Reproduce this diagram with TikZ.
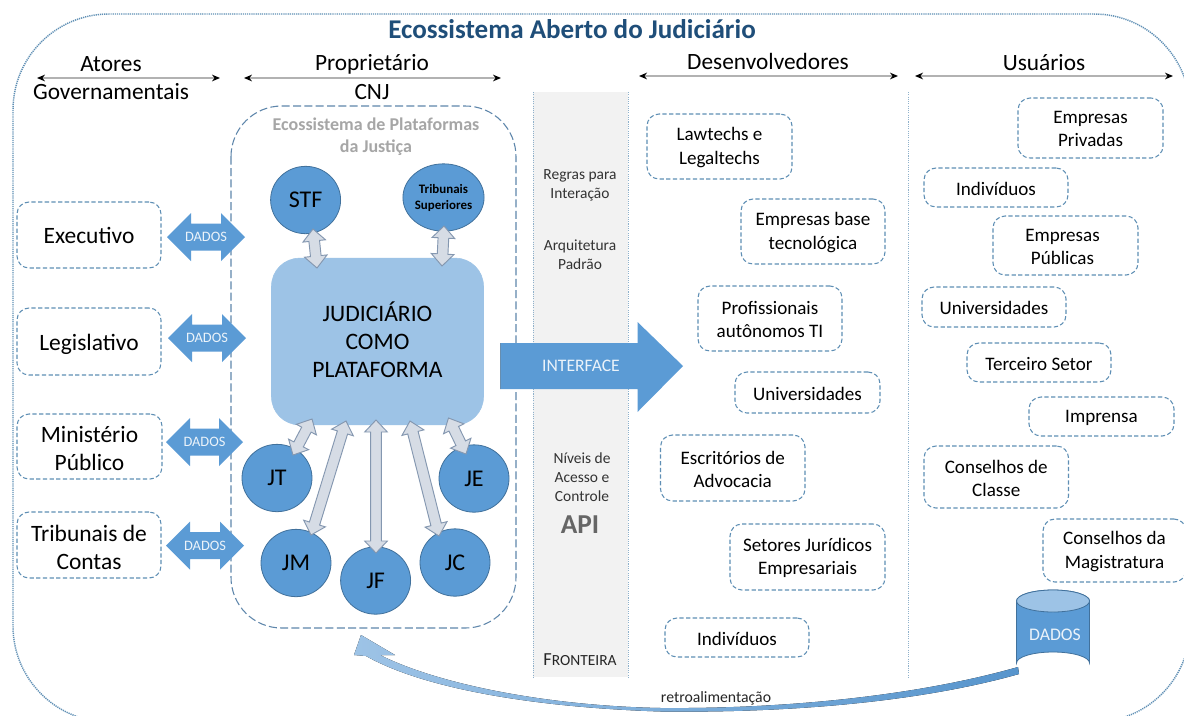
\documentclass[tikz,border=0pt]{standalone}
\usepackage{fontspec}
\setmainfont{Carlito}
\usetikzlibrary{calc,shapes.geometric,arrows.meta}
\definecolor{midblue}{HTML}{5B9BD5}
\definecolor{lightblue}{HTML}{9DC3E6}
\definecolor{edgeblue}{HTML}{41719C}
\definecolor{dashblue}{HTML}{5F8FB5}
\definecolor{fatfill}{HTML}{D6DCE5}
\definecolor{fatedge}{HTML}{8497B0}
\definecolor{titleblue}{HTML}{1F4E79}
\definecolor{colgray}{HTML}{F2F2F2}
\tikzset{
  x=0.75pt,y=-0.75pt,
  dashbox/.style={draw=dashblue,line width=0.8pt,dash pattern=on 3.2pt off 1.8pt,rounded corners=9pt,inner sep=0pt},
  boxtext/.style={inner sep=0pt,align=center,yshift=-0.8pt,font=\fontsize{14.3}{17.4}\selectfont},
  leftbox/.style={yshift=-0.4pt,font=\fontsize{17.6}{21}\selectfont},
  leftboxlow/.style={yshift=-1.2pt,font=\fontsize{17.6}{21}\selectfont},
  leftboxhigh/.style={yshift=0.8pt,font=\fontsize{17.6}{21}\selectfont},
  ball/.style={ellipse,draw=edgeblue,fill=midblue,line width=0.6pt,inner sep=0pt,minimum width=52.5pt,minimum height=50.5pt,align=center,font=\fontsize{18}{19}\selectfont},
  fat/.style={draw=fatedge,fill=fatfill,line width=0.7pt,line join=miter},
  headarrow/.style={draw=black!30,line width=1pt,{Stealth[black,length=6pt,width=5pt]}-{Stealth[black,length=6pt,width=5pt]}},
  headtext/.style={inner sep=0pt,font=\fontsize{17.5}{19}\selectfont},
  coltext/.style={inner sep=0pt,align=center,text=black!80,font=\fontsize{11.6}{14.2}\selectfont},
  datatext/.style={inner sep=0pt,text=white!88!midblue,font=\fontsize{10.8}{12}\selectfont},
  dadosarrow/.style={fill=midblue,draw=none},
  vdots/.style={draw=dashblue!70,line width=0.6pt,dash pattern=on 0.8pt off 0.9pt},
}
% rounded dashed box: text style, name, x1, y1, x2, y2, text
\newcommand{\rbox}[7][]{\node[dashbox,minimum width={(#5-#3)*0.75pt},minimum height={(#6-#4)*0.75pt}] (#2) at ({(#3+#5)/2},{(#4+#6)/2}) {};
  \node[boxtext,#1] (#2-t) at (#2) {#7};}
% double block arrow between two named coordinates
\newcommand{\fatarrow}[2]{%
  \draw[fat]
   (#1)
   -- ($(#1)!9pt!(#2)!8.5pt!90:(#2)$)
   -- ($(#1)!9pt!(#2)!4pt!90:(#2)$)
   -- ($(#2)!9pt!(#1)!4pt!-90:(#1)$)
   -- ($(#2)!9pt!(#1)!8.5pt!-90:(#1)$)
   -- (#2)
   -- ($(#2)!9pt!(#1)!8.5pt!90:(#1)$)
   -- ($(#2)!9pt!(#1)!4pt!90:(#1)$)
   -- ($(#1)!9pt!(#2)!4pt!-90:(#2)$)
   -- ($(#1)!9pt!(#2)!8.5pt!-90:(#2)$)
   -- cycle;}
% horizontal DADOS arrow: name, x1, x2, cy
\newcommand{\dadosarrow}[4]{%
  \fill[dadosarrow] (#2,#4) -- (#2+24,#4-24) -- (#2+24,#4-13.5) -- (#3-24,#4-13.5) -- (#3-24,#4-24) -- (#3,#4)
     -- (#3-24,#4+24) -- (#3-24,#4+13.5) -- (#2+24,#4+13.5) -- (#2+24,#4+24) -- cycle;
  \node[datatext] (#1) at ({(#2+#3)/2},#4) {DADOS};}
\begin{document}
\begin{tikzpicture}
\useasboundingbox (0,0) rectangle (1184,715);
\fill[white] (0,0) rectangle (1184,715);
\clip (0,0) rectangle (1184,715);

% outer frame
\draw[draw=dashblue,line width=1.1pt,dash pattern=on 0.9pt off 0.7pt,rounded corners=72pt] (13,14) rectangle (1190,722);
\node[inner sep=0pt,text=titleblue,font=\bfseries\fontsize{20.3}{22}\selectfont] (title) at (572,29) {Ecossistema Aberto do Judiciário};

% headers
\node[headtext] (h1) at (111,64) {Atores};
\node[headtext] (h1b) at (111,92) {Governamentais};
\node[headtext] (h2) at (372,64) {Proprietário};
\node[headtext] (h2b) at (372,92) {CNJ};
\node[headtext] (h3) at (768,61) {Desenvolvedores};
\node[headtext] (h4) at (1044,63) {Usuários};
\coordinate (a1) at (37,78); \coordinate (a2) at (220,78);
\coordinate (b1) at (244,78); \coordinate (b2) at (501,78);
\coordinate (c1) at (639,76); \coordinate (c2) at (898,76);
\coordinate (d1) at (915,76); \coordinate (d2) at (1173,76);
\draw[headarrow] (a1) -- (a2);
\draw[headarrow] (b1) -- (b2);
\draw[headarrow] (c1) -- (c2);
\draw[headarrow] (d1) -- (d2);

% inner platform frame
\draw[draw=edgeblue!85,line width=0.8pt,dash pattern=on 6pt off 2.5pt,rounded corners=38pt] (231,106) rectangle (516,628);
\node[inner sep=0pt,align=center,text=black!35,font=\bfseries\fontsize{13.5}{16.5}\selectfont] (eco) at (376,136.5) {Ecossistema de Plataformas\\da Justiça};

% feedback arrow
\fill[left color=lightblue,middle color=lightblue!30,right color=midblue!85!edgeblue]
  (361,635) -- (395,655) -- (380,655)
  .. controls (440,685) and (550,706) .. (661,708)
  .. controls (790,709) and (920,695) .. (1018,667)
  -- (1019,674)
  .. controls (920,702) and (790,713) .. (661,711.5)
  .. controls (550,708) and (430,692) .. (366,656)
  -- (354,655) -- cycle;
\node[inner sep=0pt,text=black!85,font=\fontsize{11.8}{13}\selectfont] (retro) at (716,698) {retroalimentação};

% API column
\fill[colgray] (533,92) rectangle (628,677);
\draw[vdots] (533,92) -- (533,677);
\draw[vdots] (628,92) -- (628,677);
\draw[vdots] (908,92) -- (908,677);
\node[coltext] (c-regras) at (580,185.5) {Regras para\\Interação};
\node[coltext] (c-arq) at (580,254.5) {Arquitetura\\Padrão};
\node[coltext] (c-niveis) at (582,477) {Níveis de\\Acesso e\\Controle};
\node[inner sep=0pt,text=black!60,font=\bfseries\fontsize{20.5}{22}\selectfont] (c-api) at (580,525) {API};
\node[inner sep=0pt,text=black!85,font=\fontsize{13.8}{15}\selectfont] (c-front) at (580,660) {F{\fontsize{11.6}{15}\selectfont RONTEIRA}};

% left boxes
\rbox[leftboxhigh]{exec}{17}{202}{161}{268}{Executivo}
\rbox[leftboxlow]{legis}{17}{308}{161}{375}{Legislativo}
\rbox[leftbox]{mp}{17}{414}{162}{479}{Ministério\\Público}
\rbox[leftboxlow]{tc}{17}{512}{161}{578}{Tribunais de\\Contas}

% DADOS arrows
\dadosarrow{d-exec}{167}{245}{237}
\dadosarrow{d-legis}{168}{246}{338}
\dadosarrow{d-mp}{166}{243}{442}
\dadosarrow{d-tc}{166}{244}{545.5}

% platform
\node[fill=lightblue,draw=lightblue,rounded corners=21pt,minimum width=159pt,minimum height=125pt,inner sep=0pt,align=center,font=\fontsize{17.7}{21}\selectfont] (plat) at (377.5,341.5) {\raisebox{3pt}{JUDICIÁRIO}\\\raisebox{3pt}{COMO}\\\raisebox{3pt}{PLATAFORMA}};

% circles
\node[ball] (stf) at (305.6,200) {STF};
\node[ball,font=\bfseries\fontsize{9.7}{12}\selectfont] (sup) at (443.5,197.5) {Tribunais\\Superiores};
\node[ball] (jt) at (277,478) {JT};
\node[ball] (je) at (474,478.5) {JE};
\node[ball] (jm) at (296,563) {JM};
\node[ball] (jf) at (375.6,580.5) {JF};
\node[ball] (jc) at (455,562.5) {JC};

% connectors circle <-> platform
\coordinate (stf1) at (313,229); \coordinate (stf2) at (317,268);
\coordinate (sup1) at (444,226); \coordinate (sup2) at (442,266);
\coordinate (jt1) at (312,419); \coordinate (jt2) at (293,455);
\coordinate (jm1) at (346,421); \coordinate (jm2) at (311,535);
\coordinate (jf1) at (376,420); \coordinate (jf2) at (376,553);
\coordinate (jc1) at (410,421); \coordinate (jc2) at (439,536);
\coordinate (je1) at (448.5,418); \coordinate (je2) at (466,454);
\fatarrow{stf1}{stf2}
\fatarrow{sup1}{sup2}
\fatarrow{jt1}{jt2}
\fatarrow{jm1}{jm2}
\fatarrow{jf1}{jf2}
\fatarrow{jc1}{jc2}
\fatarrow{je1}{je2}

% interface arrow
\fill[midblue] (500,343) -- (637.5,343) -- (637.5,322) -- (683,366) -- (637.5,412) -- (637.5,389) -- (500,389) -- cycle;
\draw[edgeblue!80,line width=0.4pt] (500,389) -- (500,343);
\node[datatext,font=\fontsize{13.2}{15}\selectfont] (iface) at (581,366) {INTERFACE};

% developers
\rbox{lawt}{647}{114}{792}{179}{Lawtechs e\\Legaltechs}
\rbox{ebase}{741}{199}{885}{264}{Empresas base\\tecnológica}
\rbox{prof}{698}{286}{842}{351}{Profissionais\\autônomos TI}
\rbox{univ}{735}{372}{880}{413}{Universidades}
\rbox{escr}{660.5}{435}{805}{501}{Escritórios de\\Advocacia}
\rbox{setor}{730}{524}{885}{590}{Setores Jurídicos\\Empresariais}
\rbox{indiv}{665}{618}{809}{657}{Indivíduos}

% users
\rbox{epriv}{1018}{98}{1163}{158}{Empresas\\Privadas}
\rbox{uind}{924}{168}{1068}{207}{Indivíduos}
\rbox{epub}{993}{216}{1138}{275}{Empresas\hspace*{4.5pt}\\Públicas\hspace*{4.5pt}}
\rbox{uuniv}{922}{287}{1066}{327}{Universidades}
\rbox{terc}{967}{343}{1111}{382}{Terceiro Setor}
\rbox{impr}{1029}{397}{1174}{436}{Imprensa}
\rbox{ccl}{924}{446}{1068.5}{508}{Conselhos de\\Classe}
\rbox{cmag}{1043}{519}{1186}{582}{Conselhos da\\Magistratura}

% database
\path[fill=midblue,draw=edgeblue,line width=0.6pt] (1016.5,601) -- (1016.5,663) arc[start angle=180,end angle=360,x radius=36.5,y radius=11] -- (1089.5,601) arc[start angle=0,end angle=-180,x radius=36.5,y radius=11] -- cycle;
\path[fill=lightblue,draw=edgeblue,line width=0.6pt] (1053,601) ellipse[x radius=36.5,y radius=11];
\node[datatext,font=\fontsize{13.3}{15}\selectfont] (db) at (1055,635) {DADOS};
\end{tikzpicture}
\end{document}
